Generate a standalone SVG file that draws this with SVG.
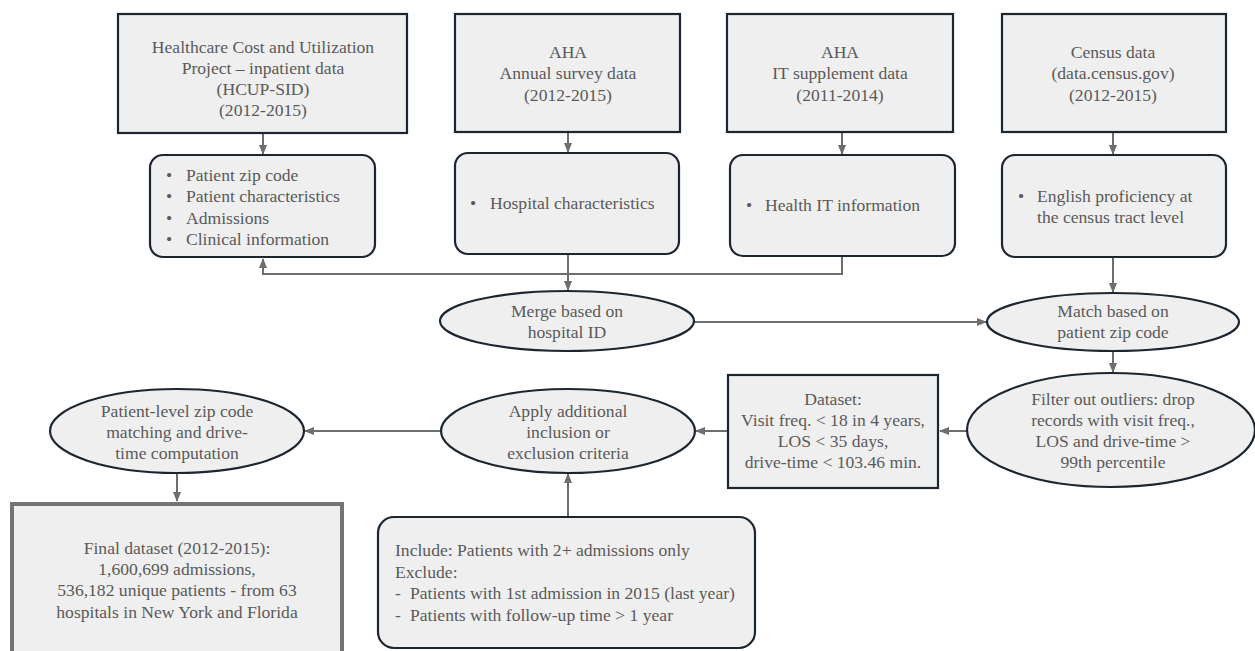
<svg xmlns="http://www.w3.org/2000/svg" width="1255" height="651" viewBox="0 0 1255 651">
<style>
.box{fill:#efefef;stroke:#1c2630;stroke-width:2.2}
.fin{fill:#efefef;stroke:#747474;stroke-width:4}
.t{font-family:"Liberation Serif","DejaVu Serif",serif;font-size:17.6px;fill:#5a5a5a;text-anchor:middle}
.l{text-anchor:start}
.c{fill:none;stroke:#6e6e6e;stroke-width:2}
</style>
<defs>
<marker id="ah" viewBox="0 0 10 10" refX="9" refY="5" markerWidth="5" markerHeight="5" orient="auto" markerUnits="strokeWidth">
<path d="M0,1 L10,5 L0,9 Z" fill="#6e6e6e"/>
</marker>
</defs>
<rect width="1255" height="651" fill="#ffffff"/>

<g id="connectors">
<path class="c" d="M263,133 V154" marker-end="url(#ah)"/>
<path class="c" d="M568,132 V152" marker-end="url(#ah)"/>
<path class="c" d="M842,132 V154" marker-end="url(#ah)"/>
<path class="c" d="M1113,132 V154" marker-end="url(#ah)"/>
<path class="c" d="M568,254 V290" marker-end="url(#ah)"/>
<path class="c" d="M842,256 V274 H263 V259" marker-end="url(#ah)"/>
<path class="c" d="M1113,258 V292" marker-end="url(#ah)"/>
<path class="c" d="M694,322 H986" marker-end="url(#ah)"/>
<path class="c" d="M1113,352 V372" marker-end="url(#ah)"/>
<path class="c" d="M967,431 H940" marker-end="url(#ah)"/>
<path class="c" d="M728,431 H696" marker-end="url(#ah)"/>
<path class="c" d="M441,431 H305" marker-end="url(#ah)"/>
<path class="c" d="M177,474 V501" marker-end="url(#ah)"/>
<path class="c" d="M568,517 V474" marker-end="url(#ah)"/>
</g>

<g id="hcup">
<rect class="box" x="118" y="14" width="289" height="119"/>
<text class="t" x="263" y="53">Healthcare Cost and Utilization</text>
<text class="t" x="263" y="74">Project – inpatient data</text>
<text class="t" x="263" y="95">(HCUP-SID)</text>
<text class="t" x="263" y="116">(2012-2015)</text>
</g>

<g id="hcup-vars">
<rect class="box" x="150" y="155" width="225" height="102" rx="13"/>
<text class="t l" x="166" y="181">•</text><text class="t l" x="186" y="181">Patient zip code</text>
<text class="t l" x="166" y="202">•</text><text class="t l" x="186" y="202">Patient characteristics</text>
<text class="t l" x="166" y="224">•</text><text class="t l" x="186" y="224">Admissions</text>
<text class="t l" x="166" y="245">•</text><text class="t l" x="186" y="245">Clinical information</text>
</g>

<g id="aha-annual">
<rect class="box" x="455" y="14" width="225" height="118"/>
<text class="t" x="568" y="58">AHA</text>
<text class="t" x="568" y="79">Annual survey data</text>
<text class="t" x="568" y="101">(2012-2015)</text>
</g>

<g id="aha-annual-vars">
<rect class="box" x="455" y="153" width="224" height="101" rx="13"/>
<text class="t l" x="470" y="209">•</text><text class="t l" x="490" y="209">Hospital characteristics</text>
</g>

<g id="aha-it">
<rect class="box" x="727" y="14" width="226" height="118"/>
<text class="t" x="840" y="58">AHA</text>
<text class="t" x="840" y="79">IT supplement data</text>
<text class="t" x="840" y="101">(2011-2014)</text>
</g>

<g id="aha-it-vars">
<rect class="box" x="730" y="155" width="225" height="101" rx="13"/>
<text class="t l" x="746" y="211">•</text><text class="t l" x="765" y="211">Health IT information</text>
</g>

<g id="census">
<rect class="box" x="1002" y="14" width="224" height="118"/>
<text class="t" x="1113" y="58">Census data</text>
<text class="t" x="1113" y="79">(data.census.gov)</text>
<text class="t" x="1113" y="101">(2012-2015)</text>
</g>

<g id="census-vars">
<rect class="box" x="1002" y="155" width="224" height="102" rx="13"/>
<text class="t l" x="1018" y="202">•</text><text class="t l" x="1037" y="202">English proficiency at</text>
<text class="t l" x="1037" y="223">the census tract level</text>
</g>

<g id="merge">
<ellipse class="box" cx="567" cy="321" rx="127" ry="30"/>
<text class="t" x="567" y="317">Merge based on</text>
<text class="t" x="567" y="338">hospital ID</text>
</g>

<g id="match">
<ellipse class="box" cx="1113" cy="322" rx="126" ry="29"/>
<text class="t" x="1113" y="317">Match based on</text>
<text class="t" x="1113" y="338">patient zip code</text>
</g>

<g id="filter">
<ellipse class="box" cx="1111" cy="430" rx="144" ry="57"/>
<text class="t" x="1113" y="405">Filter out outliers: drop</text>
<text class="t" x="1113" y="426">records with visit freq.,</text>
<text class="t" x="1113" y="447">LOS and drive-time &gt;</text>
<text class="t" x="1113" y="468">99th percentile</text>
</g>

<g id="dataset">
<rect class="box" x="728" y="375" width="210" height="113"/>
<text class="t" x="833" y="405">Dataset:</text>
<text class="t" x="833" y="426">Visit freq. &lt; 18 in 4 years,</text>
<text class="t" x="833" y="447">LOS &lt; 35 days,</text>
<text class="t" x="833" y="468">drive-time &lt; 103.46 min.</text>
</g>

<g id="apply">
<ellipse class="box" cx="568" cy="431" rx="127" ry="42"/>
<text class="t" x="568" y="417">Apply additional</text>
<text class="t" x="568" y="438">inclusion or</text>
<text class="t" x="568" y="459">exclusion criteria</text>
</g>

<g id="patient-level">
<ellipse class="box" cx="177" cy="431" rx="127" ry="42"/>
<text class="t" x="177" y="417">Patient-level zip code</text>
<text class="t" x="177" y="438">matching and drive-</text>
<text class="t" x="177" y="459">time computation</text>
</g>

<g id="final">
<rect class="fin" x="12" y="504" width="330" height="160"/>
<text class="t" x="177" y="554">Final dataset (2012-2015):</text>
<text class="t" x="177" y="575">1,600,699 admissions,</text>
<text class="t" x="177" y="596">536,182 unique patients - from 63</text>
<text class="t" x="177" y="618">hospitals in New York and Florida</text>
</g>

<g id="criteria">
<rect class="box" x="378" y="517" width="377" height="131" rx="16"/>
<text class="t l" x="395" y="556">Include: Patients with 2+ admissions only</text>
<text class="t l" x="395" y="578">Exclude:</text>
<text class="t l" x="395" y="599">-</text><text class="t l" x="410" y="599">Patients with 1st admission in 2015 (last year)</text>
<text class="t l" x="395" y="621">-</text><text class="t l" x="410" y="621">Patients with follow-up time &gt; 1 year</text>
</g>
</svg>
